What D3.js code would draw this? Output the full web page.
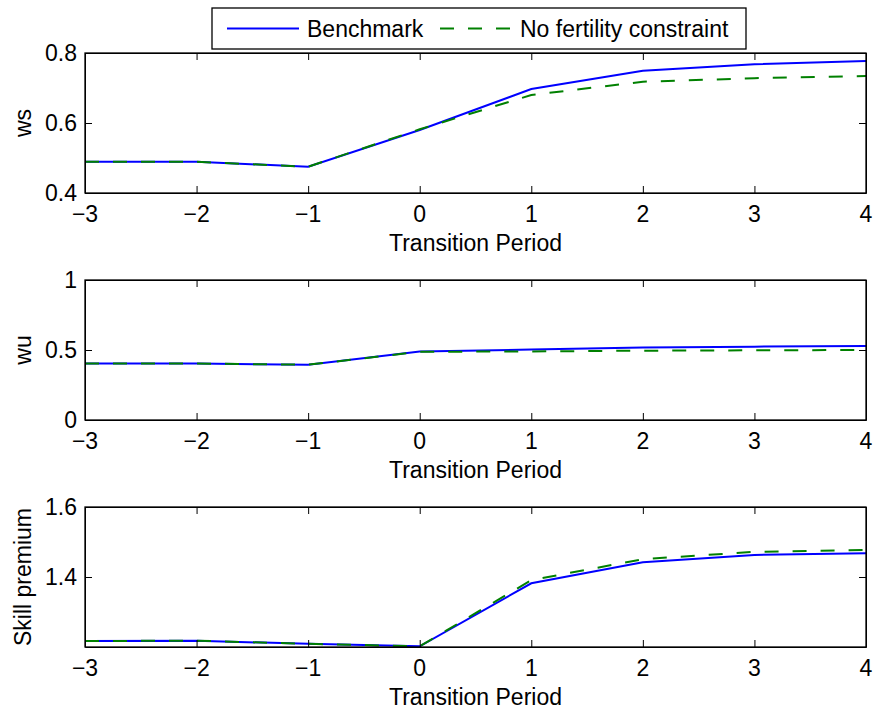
<!DOCTYPE html>
<html>
<head>
<meta charset="utf-8">
<script src="https://cdn.jsdelivr.net/npm/d3@7"></script>
<style>
  body { margin: 0; background: #fff; }
  svg { font-family: "Liberation Sans", Arial, sans-serif; }
  .axis text { font-size: 23px; fill: #000; }
  .axis path, .axis line { stroke: #000; }
  .label { font-size: 23px; fill: #000; }
</style>
</head>
<body>
<svg id="chart"></svg>
<script>
// Transition periods on the x-axis
const periods = [-3, -2, -1, 0, 1, 2, 3, 4];
const xTicks = [-3, -2, -1, 0, 1, 2, 3, 4];

// Series values
const wsBenchmark   = [0.489, 0.489, 0.475, 0.580, 0.697, 0.749, 0.768, 0.777];
const wsNoFertility = [0.489, 0.489, 0.475, 0.582, 0.680, 0.718, 0.728, 0.734];

const wuBenchmark   = [0.404, 0.403, 0.395, 0.489, 0.503, 0.518, 0.524, 0.528];
const wuNoFertility = [0.404, 0.403, 0.395, 0.487, 0.490, 0.495, 0.498, 0.500];

const skillBenchmark   = [1.217, 1.218, 1.209, 1.202, 1.382, 1.442, 1.463, 1.468];
const skillNoFertility = [1.217, 1.218, 1.209, 1.202, 1.391, 1.451, 1.472, 1.477];

// Y tick labels per panel
const wsTicks = [0.4, 0.6, 0.8];
const wuTicks = [0, 0.5, 1];
const skillTicks = [1.4, 1.6];

const seriesNames = ['Benchmark', 'No fertility constraint'];

class LinePanel {

  constructor(_config) {
    this.config = {
      parent: _config.parent,
      top: _config.top,
      left: _config.left || 85,
      width: _config.width || 781,
      height: _config.height || 140,
      yDomain: _config.yDomain,
      yTicks: _config.yTicks,
      yLabel: _config.yLabel,
      tickSize: 7
    };
    this.series = _config.series;
    this.initVis();
  }

  initVis() {
    let vis = this;
    const c = vis.config;

    vis.xScale = d3.scaleLinear().domain([-3, 4]).range([0, c.width]);
    vis.yScale = d3.scaleLinear().domain(c.yDomain).range([c.height, 0]);

    vis.chart = c.parent.append('g')
        .attr('transform', `translate(${c.left},${c.top})`);

    // lines first, axes on top like matlab
    vis.line = d3.line()
        .x(d => vis.xScale(d.x))
        .y(d => vis.yScale(d.y));

    vis.chart.selectAll('.series')
        .data(vis.series)
      .join('path')
        .attr('class', 'series')
        .attr('fill', 'none')
        .attr('stroke', d => d.color)
        .attr('stroke-width', 2)
        .attr('stroke-dasharray', d => d.dash)
        .attr('d', d => vis.line(periods.map((p, i) => ({x: p, y: d.values[i]}))));

    const fmt = d => d3.format('~g')(d).replace('-', '\u2212');

    // bottom / left with labels, top / right mirrored without
    vis.chart.append('g')
        .attr('class', 'axis')
        .attr('transform', `translate(0,${c.height})`)
        .call(d3.axisTop(vis.xScale).tickValues(xTicks).tickSize(c.tickSize).tickSizeOuter(0).tickFormat(''));
    vis.chart.append('g')
        .attr('class', 'axis')
        .call(d3.axisBottom(vis.xScale).tickValues(xTicks).tickSize(c.tickSize).tickSizeOuter(0).tickFormat(''));
    vis.chart.append('g')
        .attr('class', 'axis')
        .call(d3.axisRight(vis.yScale).tickValues(c.yTicks).tickSize(c.tickSize).tickSizeOuter(0).tickFormat(''));
    vis.chart.append('g')
        .attr('class', 'axis')
        .attr('transform', `translate(${c.width},0)`)
        .call(d3.axisLeft(vis.yScale).tickValues(c.yTicks).tickSize(c.tickSize).tickSizeOuter(0).tickFormat(''));

    // tick labels
    vis.chart.append('g').attr('class', 'axis')
      .selectAll('text')
        .data(xTicks)
      .join('text')
        .attr('x', d => vis.xScale(d))
        .attr('y', c.height + 29)
        .attr('text-anchor', 'middle')
        .text(fmt);
    vis.chart.append('g').attr('class', 'axis')
      .selectAll('text')
        .data(c.yTicks)
      .join('text')
        .attr('x', -8)
        .attr('y', d => vis.yScale(d))
        .attr('dy', '0.36em')
        .attr('text-anchor', 'end')
        .text(fmt);

    // frame
    vis.chart.append('rect')
        .attr('width', c.width)
        .attr('height', c.height)
        .attr('fill', 'none')
        .attr('stroke', '#000')
        .attr('stroke-width', 1.3);

    vis.chart.append('text')
        .attr('class', 'label')
        .attr('x', vis.xScale(0.5))
        .attr('y', c.height + 58)
        .attr('text-anchor', 'middle')
        .text('Transition Period');

    vis.chart.append('text')
        .attr('class', 'label')
        .attr('transform', `translate(${-62},${c.height / 2}) rotate(-90)`)
        .attr('dy', '0.36em')
        .attr('text-anchor', 'middle')
        .text(c.yLabel);
  }
}

const colors = ['#0000ff', '#008000'];
const dashes = [null, '14,14'];

const svg = d3.select('#chart')
    .attr('width', 876)
    .attr('height', 709);

function makeSeries(a, b) {
  return [a, b].map((values, i) => ({name: seriesNames[i], values, color: colors[i], dash: dashes[i]}));
}

new LinePanel({parent: svg, top: 53, yDomain: [0.4, 0.8], yTicks: wsTicks, yLabel: 'ws',
  series: makeSeries(wsBenchmark, wsNoFertility)});
new LinePanel({parent: svg, top: 280, yDomain: [0, 1], yTicks: wuTicks, yLabel: 'wu',
  series: makeSeries(wuBenchmark, wuNoFertility)});
new LinePanel({parent: svg, top: 507, yDomain: [1.2, 1.6], yTicks: skillTicks, yLabel: 'Skill premium',
  series: makeSeries(skillBenchmark, skillNoFertility)});

// Legend
const legend = svg.append('g').attr('transform', 'translate(212,8)');
legend.append('rect')
    .attr('width', 534)
    .attr('height', 41)
    .attr('fill', '#fff')
    .attr('stroke', '#000')
    .attr('stroke-width', 1.3);

const legendItems = [{x: 15, tx: 95}, {x: 228, tx: 308}];
legendItems.forEach((item, i) => {
  legend.append('line')
      .attr('x1', item.x).attr('x2', item.x + 72)
      .attr('y1', 20.5).attr('y2', 20.5)
      .attr('stroke', colors[i])
      .attr('stroke-width', 2)
      .attr('stroke-dasharray', i === 1 ? '14,14' : null);
  legend.append('text')
      .attr('class', 'label')
      .attr('x', item.tx)
      .attr('y', 20.5)
      .attr('dy', '0.36em')
      .text(seriesNames[i]);
});
</script>
</body>
</html>
